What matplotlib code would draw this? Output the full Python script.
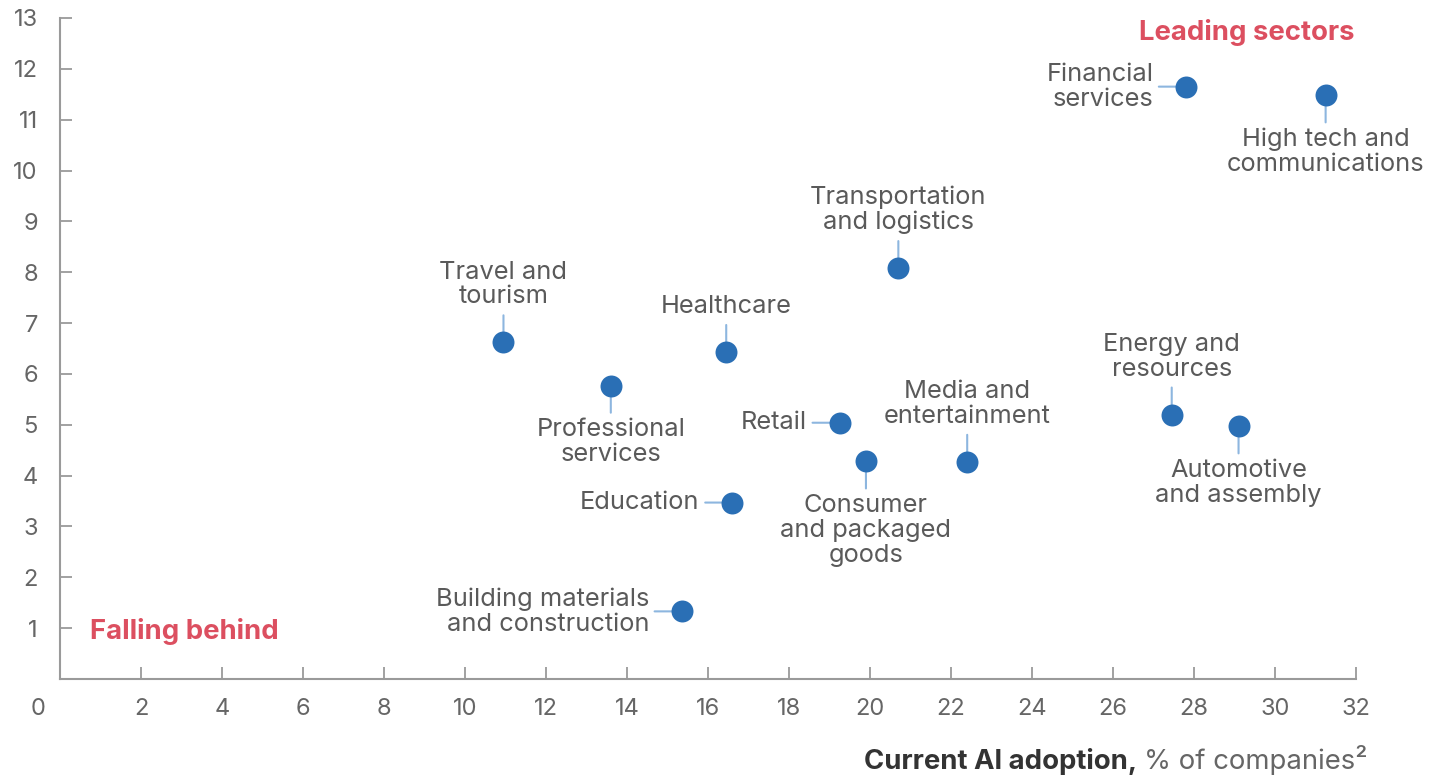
import matplotlib.pyplot as plt

plt.rcParams['font.family'] = ['Inter', 'DejaVu Sans']

sectors = ['Financial\nservices', 'High tech and\ncommunications', 'Transportation\nand logistics',
           'Travel and\ntourism', 'Healthcare', 'Professional\nservices', 'Retail',
           'Consumer\nand packaged\ngoods', 'Media and\nentertainment', 'Education',
           'Energy and\nresources', 'Automotive\nand assembly', 'Building materials\nand construction']
adoption = [27.8, 31.25, 20.7, 10.95, 16.45, 13.6, 19.25, 19.9, 22.4, 16.6, 27.45, 29.1, 15.35]
growth = [11.65, 11.48, 8.08, 6.62, 6.43, 5.77, 5.04, 4.28, 4.27, 3.47, 5.2, 4.97, 1.33]
placement = ['left', 'below', 'above', 'above', 'above', 'below', 'left',
             'below', 'above', 'left', 'above', 'below', 'left']

xticks = list(range(2, 33, 2))
yticks = list(range(1, 14))

dot_col = '#2a6fb5'
line_col = '#8db6df'
txt_col = '#5a5a5a'
red = '#dc4f60'
axis_col = '#9a9a9a'
fs = 18.3      # sector labels
fs_tick = 17
fs_big = 19.8  # red notes and axis title

fig = plt.figure(figsize=(14.39, 7.76), dpi=100)
ax = fig.add_axes([60/1439, 97/776, 1296/1439, 661/776])

ax.scatter(adoption, growth, s=250, color=dot_col, zorder=5, linewidths=0)

conn = 19.5  # connector length in points from dot centre
for name, x, y, pos in zip(sectors, adoption, growth, placement):
    if pos == 'left':
        end = (-conn, 0)
        off, ha, va = (-23.5, 0), 'right', 'center'
    elif pos == 'above':
        end = (0, conn)
        off, ha, va = (0, 24.5), 'center', 'bottom'
    else:
        end = (0, -conn)
        off, ha, va = (0, -23.5), 'center', 'top'
    ax.annotate('', xy=(x, y), xytext=end, textcoords='offset points',
                arrowprops=dict(arrowstyle='-', color=line_col, lw=1.5,
                                shrinkA=0, shrinkB=0), zorder=2)
    ax.annotate(name, xy=(x, y), xytext=off, textcoords='offset points',
                ha=ha, va=va, multialignment=ha,
                fontsize=fs, color=txt_col, linespacing=1.1)

ax.set_xlim(0, 32)
ax.set_ylim(0, 13)
ax.set_xticks(xticks)
ax.set_yticks(yticks)
ax.tick_params(direction='in', length=8.5, width=1.3, color=axis_col,
               labelsize=fs_tick, labelcolor='#666666')
ax.tick_params(axis='y', pad=16)
ax.tick_params(axis='x', pad=14)
for s in ['top', 'right']:
    ax.spines[s].set_visible(False)
for s in ['left', 'bottom']:
    ax.spines[s].set_color(axis_col)
    ax.spines[s].set_linewidth(1.5)

# origin label
ax.annotate('0', xy=(0, 0), xycoords='axes fraction', xytext=(-16, -14),
            textcoords='offset points', ha='center', va='top',
            fontsize=fs_tick, color='#666666')

fig.text(1247/1439, 1 - 33/776, 'Leading sectors', ha='center', va='center',
         fontsize=fs_big, fontweight='bold', color=red)
ax.text(0.74, 0.94, 'Falling behind', ha='left', va='center',
        fontsize=fs_big, fontweight='bold', color=red)

t2 = fig.text(1367/1439, 7/776, '% of companies²', ha='right', va='baseline',
              fontsize=fs_big, color='#666666')
ax.annotate('Current AI adoption,', xy=(0, 0), xycoords=t2, xytext=(-5, 0),
            textcoords='offset points', ha='right', va='bottom',
            fontsize=fs_big, fontweight='bold', color='#333333', annotation_clip=False)

fig.savefig('out.png', dpi=100)
